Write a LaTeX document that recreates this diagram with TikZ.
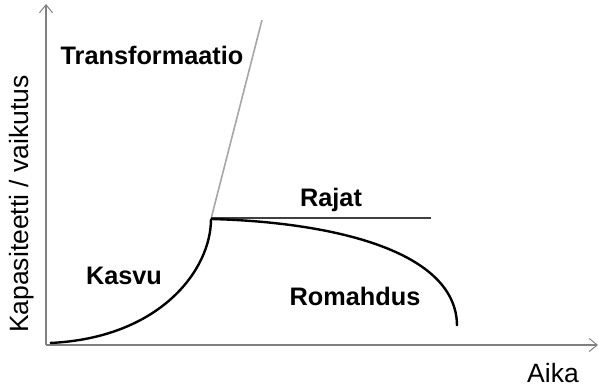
\documentclass[tikz,border=0pt]{standalone}
\usepackage{fontspec}
\setmainfont{Liberation Sans}
\usepackage{tikz}
\usetikzlibrary{arrows.meta, positioning}
\definecolor{Axis_Gray}{HTML}{808080}
\definecolor{Trans_Gray}{HTML}{A6A6A6}
\definecolor{Limit_Gray}{HTML}{404040}

\begin{document}
\begin{tikzpicture}[x=1pt, y=-1pt,
    axis/.style={draw=Axis_Gray, line width=1.3pt, -{Straight Barb[length=8pt, width=13pt, line width=1pt]}},
    phase/.style={font=\fontsize{25.3}{29}\selectfont\bfseries, anchor=base},
    axislabel/.style={font=\fontsize{26.5}{30}\selectfont, anchor=base}]
    \useasboundingbox (0,0) rectangle (598,390);

    % Axes
    \coordinate (origin) at (46,345);
    \coordinate (ytop) at (46,4);
    \coordinate (xend) at (598,345);
    \draw[axis] (origin) -- (ytop);
    \draw[axis] (origin) -- (xend);

    % Curve points
    \coordinate (start) at (50,343);
    \coordinate (knee) at (211,219);
    \coordinate (transend) at (262,20);
    \coordinate (limitend) at (431,218);
    \coordinate (fallend) at (457,326);

    % Growth, then the three outcomes
    \draw[line width=2.4pt, black] (start) .. controls (160,338) and (211,270) .. (knee);
    \draw[line width=1.6pt, Trans_Gray] (knee) -- (transend);
    \draw[line width=1.6pt, Limit_Gray] (knee |- limitend) -- (limitend);
    \draw[line width=2.4pt, black] (knee) .. controls (330,222) and (457,250) .. (fallend);

    % Labels
    \node[phase] (transformaatio) at (152,65) {Transformaatio};
    \node[phase] (rajat) at (331,207) {Rajat};
    \node[phase] (kasvu) at (124,285) {Kasvu};
    \node[phase] (romahdus) at (355,306) {Romahdus};
    \node[axislabel] (aika) at (553,383) {Aika};
    \node[axislabel, rotate=90] (kapasiteetti) at (28,204) {Kapasiteetti / vaikutus};
\end{tikzpicture}
\end{document}
